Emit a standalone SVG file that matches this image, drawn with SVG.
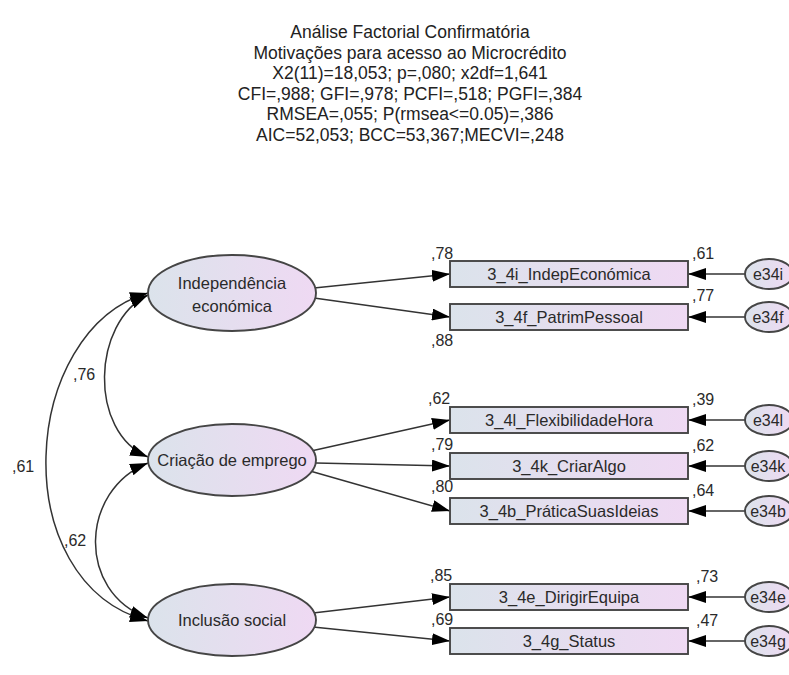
<svg xmlns="http://www.w3.org/2000/svg" width="789" height="675" viewBox="0 0 789 675">
  <style>
    .title { font-family: "Liberation Sans", Arial, sans-serif; font-size: 17.5px; fill: #222; text-anchor: middle; }
    .fac { font-family: "Liberation Sans", Arial, sans-serif; font-size: 16.5px; fill: #2a2a2a; text-anchor: middle; }
    .item { font-family: "Liberation Sans", Arial, sans-serif; font-size: 16.5px; fill: #2a2a2a; text-anchor: middle; }
    .num { font-family: "Liberation Sans", Arial, sans-serif; font-size: 16px; fill: #2a2a2a; }
    .err { font-family: "Liberation Sans", Arial, sans-serif; font-size: 16px; fill: #2a2a2a; text-anchor: middle; }
    .shape { stroke: #454545; stroke-width: 1.9; }
    .edge { fill: none; stroke: #333; stroke-width: 1.5; }
  </style>
  <defs>
    <linearGradient id="fillGrad" x1="0" y1="0" x2="1" y2="0">
      <stop offset="0" stop-color="#dbe3eb"/>
      <stop offset="1" stop-color="#efd9f3"/>
    </linearGradient>
    <marker id="head" viewBox="0 0 18 12" refX="18" refY="6" markerWidth="18" markerHeight="12" markerUnits="userSpaceOnUse" orient="auto-start-reverse">
      <path d="M0,0 L18,6 L0,12 Z" fill="#000"/>
    </marker>
  </defs>

  <rect width="789" height="675" fill="#fff"/>

  <!-- header with fit statistics -->
  <g id="header">
    <text class="title" x="410" y="38">Análise Factorial Confirmatória</text>
    <text class="title" x="410" y="59">Motivações para acesso ao Microcrédito</text>
    <text class="title" x="410" y="79">X2(11)=18,053; p=,080; x2df=1,641</text>
    <text class="title" x="410" y="100">CFI=,988; GFI=,978; PCFI=,518; PGFI=,384</text>
    <text class="title" x="410" y="120">RMSEA=,055; P(rmsea&lt;=0.05)=,386</text>
    <text class="title" x="410" y="141">AIC=52,053; BCC=53,367;MECVI=,248</text>
  </g>

  <!-- connectors: loadings, error paths, covariances -->
  <g id="connectors">
    <path class="edge" d="M314,288 L450,274" marker-end="url(#head)"/>
    <path class="edge" d="M314,298 L450,317" marker-end="url(#head)"/>
    <path class="edge" d="M311,451 L450,420" marker-end="url(#head)"/>
    <path class="edge" d="M316,463 L450,466" marker-end="url(#head)"/>
    <path class="edge" d="M310,471 L450,511" marker-end="url(#head)"/>
    <path class="edge" d="M313,613 L450,597" marker-end="url(#head)"/>
    <path class="edge" d="M313,627 L450,641" marker-end="url(#head)"/>

    <path class="edge" d="M745,274 L688,274" marker-end="url(#head)"/>
    <path class="edge" d="M745,317 L688,317" marker-end="url(#head)"/>
    <path class="edge" d="M745,420 L688,420" marker-end="url(#head)"/>
    <path class="edge" d="M745,466 L688,466" marker-end="url(#head)"/>
    <path class="edge" d="M745,511 L688,511" marker-end="url(#head)"/>
    <path class="edge" d="M745,597 L688,597" marker-end="url(#head)"/>
    <path class="edge" d="M745,641 L688,641" marker-end="url(#head)"/>

    <path class="edge" d="M148,295 C92,322 88,432 148,457" marker-start="url(#head)" marker-end="url(#head)"/>
    <path class="edge" d="M148,463 C80,490 76,592 148,618" marker-start="url(#head)" marker-end="url(#head)"/>
    <path class="edge" d="M148,293 C20,330 4,582 148,621" marker-start="url(#head)" marker-end="url(#head)"/>

    <text class="num" x="73" y="380">,76</text>
    <text class="num" x="12" y="472">,61</text>
    <text class="num" x="64" y="546">,62</text>

    <text class="num" x="431" y="259">,78</text>
    <text class="num" x="431" y="346">,88</text>
    <text class="num" x="428" y="404">,62</text>
    <text class="num" x="431" y="450">,79</text>
    <text class="num" x="431" y="492">,80</text>
    <text class="num" x="430" y="581">,85</text>
    <text class="num" x="431" y="625">,69</text>

    <text class="num" x="692" y="259">,61</text>
    <text class="num" x="692" y="301">,77</text>
    <text class="num" x="692" y="405">,39</text>
    <text class="num" x="692" y="451">,62</text>
    <text class="num" x="692" y="496">,64</text>
    <text class="num" x="696" y="582">,73</text>
    <text class="num" x="696" y="626">,47</text>
  </g>

  <!-- latent factors -->
  <g id="f-independencia">
    <ellipse class="shape" cx="232" cy="293" rx="84" ry="38" fill="url(#fillGrad)"/>
    <text class="fac" x="232" y="289">Independência</text>
    <text class="fac" x="232" y="312">económica</text>
  </g>
  <g id="f-criacao">
    <ellipse class="shape" cx="232" cy="460" rx="84" ry="36" fill="url(#fillGrad)"/>
    <text class="fac" x="232" y="466">Criação de emprego</text>
  </g>
  <g id="f-inclusao">
    <ellipse class="shape" cx="232" cy="620" rx="84" ry="36" fill="url(#fillGrad)"/>
    <text class="fac" x="232" y="626">Inclusão social</text>
  </g>

  <!-- observed items -->
  <g id="v-3_4i"><rect class="shape" x="450" y="261" width="238" height="26" fill="url(#fillGrad)"/><text class="item" x="569" y="280">3_4i_IndepEconómica</text></g>
  <g id="v-3_4f"><rect class="shape" x="450" y="304" width="238" height="26" fill="url(#fillGrad)"/><text class="item" x="569" y="323">3_4f_PatrimPessoal</text></g>
  <g id="v-3_4l"><rect class="shape" x="450" y="407" width="238" height="26" fill="url(#fillGrad)"/><text class="item" x="569" y="426">3_4l_FlexibilidadeHora</text></g>
  <g id="v-3_4k"><rect class="shape" x="450" y="453" width="238" height="26" fill="url(#fillGrad)"/><text class="item" x="569" y="472">3_4k_CriarAlgo</text></g>
  <g id="v-3_4b"><rect class="shape" x="450" y="498" width="238" height="26" fill="url(#fillGrad)"/><text class="item" x="569" y="517">3_4b_PráticaSuasIdeias</text></g>
  <g id="v-3_4e"><rect class="shape" x="450" y="584" width="238" height="26" fill="url(#fillGrad)"/><text class="item" x="569" y="603">3_4e_DirigirEquipa</text></g>
  <g id="v-3_4g"><rect class="shape" x="450" y="628" width="238" height="26" fill="url(#fillGrad)"/><text class="item" x="569" y="647">3_4g_Status</text></g>

  <!-- error terms -->
  <g id="e34i"><ellipse class="shape" cx="769" cy="274" rx="24" ry="15" fill="url(#fillGrad)"/><text class="err" x="768" y="280">e34i</text></g>
  <g id="e34f"><ellipse class="shape" cx="769" cy="317" rx="24" ry="15" fill="url(#fillGrad)"/><text class="err" x="768" y="323">e34f</text></g>
  <g id="e34l"><ellipse class="shape" cx="769" cy="420" rx="24" ry="15" fill="url(#fillGrad)"/><text class="err" x="768" y="426">e34l</text></g>
  <g id="e34k"><ellipse class="shape" cx="769" cy="466" rx="24" ry="15" fill="url(#fillGrad)"/><text class="err" x="768" y="472">e34k</text></g>
  <g id="e34b"><ellipse class="shape" cx="769" cy="511" rx="24" ry="15" fill="url(#fillGrad)"/><text class="err" x="768" y="517">e34b</text></g>
  <g id="e34e"><ellipse class="shape" cx="769" cy="597" rx="24" ry="15" fill="url(#fillGrad)"/><text class="err" x="768" y="603">e34e</text></g>
  <g id="e34g"><ellipse class="shape" cx="769" cy="641" rx="24" ry="15" fill="url(#fillGrad)"/><text class="err" x="768" y="647">e34g</text></g>
</svg>
